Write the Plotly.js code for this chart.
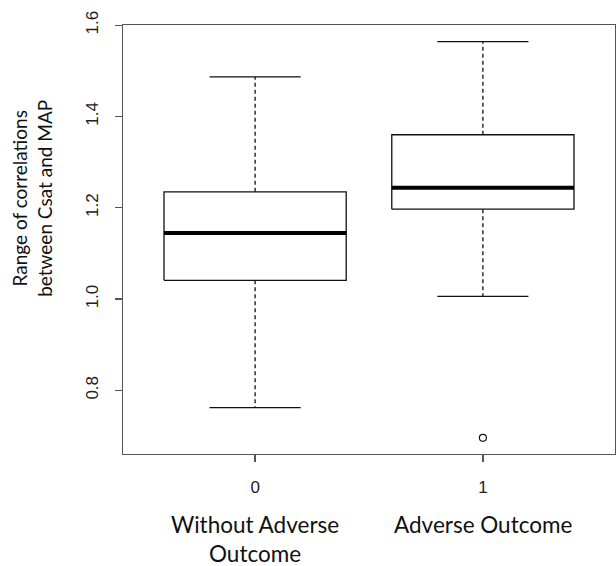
<!DOCTYPE html>
<html>
<head>
<meta charset="utf-8">
<script src="https://cdn.plot.ly/plotly-3.0.1.min.js"></script>
<style>html,body{margin:0;padding:0;background:#fff;}#chart{width:616px;height:566px;}</style>
</head>
<body>
<div id="chart"></div>
<script>
// Data
var groups = [0, 1];
var groupLabels = ["Without Adverse<br>Outcome", "Adverse Outcome"];
var lowerWhisker = [0.762, 1.006];
var q1 = [1.041, 1.197];
var median = [1.145, 1.244];
var q3 = [1.235, 1.360];
var upperWhisker = [1.487, 1.564];
var outlierGroup = [1];
var outlierValue = [0.696];
var yTicks = [0.8, 1.0, 1.2, 1.4, 1.6];

var halfBox = 0.4, halfCap = 0.2;
var boxX = [], boxY = [], medX = [], medY = [], whX = [], whY = [], capX = [], capY = [];
groups.forEach(function (g, i) {
  boxX.push(g - halfBox, g + halfBox, g + halfBox, g - halfBox, g - halfBox, null);
  boxY.push(q1[i], q1[i], q3[i], q3[i], q1[i], null);
  medX.push(g - halfBox, g + halfBox, null);
  medY.push(median[i], median[i], null);
  whX.push(g, g, null, g, g, null);
  whY.push(q3[i], upperWhisker[i], null, q1[i], lowerWhisker[i], null);
  capX.push(g - halfCap, g + halfCap, null, g - halfCap, g + halfCap, null);
  capY.push(upperWhisker[i], upperWhisker[i], null, lowerWhisker[i], lowerWhisker[i], null);
});

var lineCol = '#111';
var traces = [
  {x: whX, y: whY, mode: 'lines', line: {color: lineCol, width: 1.3, dash: '4px,3px'}, hoverinfo: 'skip'},
  {x: capX, y: capY, mode: 'lines', line: {color: lineCol, width: 1.3}, hoverinfo: 'skip'},
  {x: boxX, y: boxY, mode: 'lines', line: {color: lineCol, width: 1.3}, hoverinfo: 'skip'},
  {x: medX, y: medY, mode: 'lines', line: {color: '#000', width: 4}, hoverinfo: 'skip'},
  {x: outlierGroup, y: outlierValue, mode: 'markers', marker: {symbol: 'circle-open', size: 7, color: lineCol, line: {width: 1.2}}, hoverinfo: 'skip'}
];

var annotations = groups.map(function (g, i) {
  return {x: g, xref: 'x', y: -0.128, yref: 'paper', xanchor: 'center', yanchor: 'top', text: groupLabels[i], showarrow: false,
    font: {family: 'Lato, sans-serif', size: 22.5, color: '#111'}, align: 'center'};
});
annotations.push({x: -0.185, xref: 'paper', y: 0.597, yref: 'paper', xanchor: 'center', yanchor: 'middle', textangle: -90,
  text: 'Range of correlations<br>between Csat and MAP', showarrow: false,
  font: {family: 'Lato, sans-serif', size: 19, color: '#111'}, align: 'center'});

var layout = {
  width: 616, height: 566,
  margin: {l: 123, r: 1, t: 25, b: 112},
  paper_bgcolor: '#fff', plot_bgcolor: '#fff',
  showlegend: false,
  xaxis: {range: [-0.58, 1.58], tickvals: groups, ticktext: groups.map(String),
    showgrid: false, zeroline: false, showline: true, mirror: true, linecolor: '#555', linewidth: 1.3,
    ticks: 'outside', ticklen: 7, tickcolor: '#555', tickwidth: 1.3,
    tickfont: {family: 'Liberation Sans, Arial, sans-serif', size: 17, color: '#222'}, ticklabelstandoff: 10},
  yaxis: {range: [0.6605, 1.6005], tickvals: yTicks, ticktext: yTicks.map(function (v) { return v.toFixed(1); }),
    showgrid: false, zeroline: false, showline: true, mirror: true, linecolor: '#555', linewidth: 1.3,
    ticks: 'outside', ticklen: 7, tickcolor: '#555', tickwidth: 1.3, tickangle: -90,
    tickfont: {family: 'Liberation Sans, Arial, sans-serif', size: 17, color: '#222'}, ticklabelstandoff: 10},
  annotations: annotations
};

Plotly.newPlot('chart', traces, layout, {staticPlot: true, displayModeBar: false});
</script>
</body>
</html>
